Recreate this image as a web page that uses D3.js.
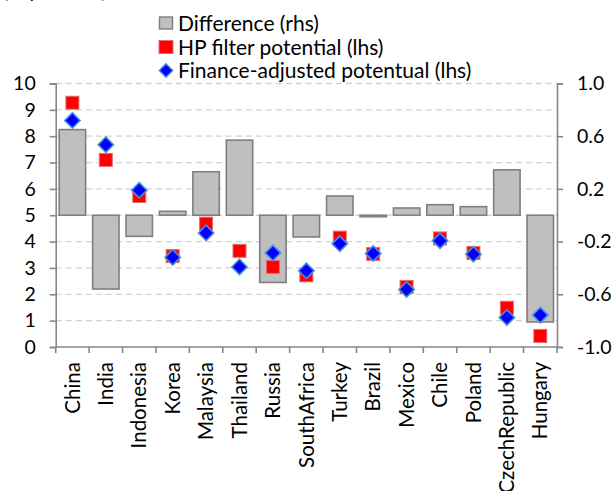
<!DOCTYPE html>
<html>
<head>
<meta charset="utf-8">
<title></title>
<script type="text/javascript" src="https://cdn.jsdelivr.net/npm/d3@7"></script>
<style type="text/css">
	body { margin: 0; background: #fff; }
	text { font-family: Lato, "Open Sans", sans-serif; fill: #000; }
</style>
</head>
<body>
<div id="chart"></div>
<script type="text/javascript">

// values
var countries = ['China', 'India', 'Indonesia', 'Korea', 'Malaysia', 'Thailand', 'Russia', 'SouthAfrica',
	'Turkey', 'Brazil', 'Mexico', 'Chile', 'Poland', 'CzechRepublic', 'Hungary'];

var difference = [0.65, -0.56, -0.16, 0.03, 0.33, 0.57, -0.51, -0.165, 0.146, -0.008, 0.055, 0.08, 0.065, 0.345, -0.81];

var hpFilter = [9.27, 7.10, 5.73, 3.45, 4.68, 3.65, 3.04, 2.72, 4.15, 3.53, 2.28, 4.12, 3.57, 1.49, 0.42];

var financeAdj = [8.60, 7.68, 5.95, 3.40, 4.33, 3.04, 3.57, 2.89, 3.92, 3.55, 2.18, 4.03, 3.52, 1.12, 1.21];

var leftTicks = [0, 1, 2, 3, 4, 5, 6, 7, 8, 9, 10];
var rightTicks = [1.0, 0.6, 0.2, -0.2, -0.6, -1.0];

var legendItems = ['Difference (rhs)', 'HP filter potential (lhs)', 'Finance-adjusted potentual (lhs)'];


var W = 613, H = 491;
var x0 = 55.7, x1 = 557, yTop = 83.5, yBot = 347;
var axisCol = '#868686';

var svg = d3.select('#chart').append('svg')
	.attr('width', W)
	.attr('height', H);

var x = d3.scaleBand().domain(countries).range([x0, x1]);
var yL = d3.scaleLinear().domain([0, 10]).range([yBot, yTop]);
var yR = d3.scaleLinear().domain([-1, 1]).range([yBot, yTop]);

// unit line, mostly above the top edge as in the original crop
svg.append('text')
	.attr('x', 3).attr('y', -2)
	.style('font-size', '20px')
	.text('(in per cent)');

// dashed grid
svg.append('g').selectAll('line')
	.data(leftTicks.filter(function(d){ return d > 0; }))
	.enter().append('line')
	.attr('x1', x0).attr('x2', x1)
	.attr('y1', function(d){ return yL(d); })
	.attr('y2', function(d){ return yL(d); })
	.attr('stroke', '#d2d2d2')
	.attr('stroke-width', 1.3)
	.attr('stroke-dasharray', '6,4');

// bars (rhs)
var bw = x.bandwidth() * 0.79;
svg.append('g').selectAll('rect')
	.data(difference)
	.enter().append('rect')
	.attr('x', function(d, i){ return x(countries[i]) + (x.bandwidth() - bw) / 2; })
	.attr('width', bw)
	.attr('y', function(d){ return Math.min(yR(d), yR(0)); })
	.attr('height', function(d){ return Math.max(Math.abs(yR(d) - yR(0)), 1.5); })
	.attr('fill', '#bfbfbf')
	.attr('stroke', '#7f7f7f')
	.attr('stroke-width', 1.6);

// axes
var fmtR = function(d){ return d3.format('.1f')(d).replace('\u2212', '-'); };

var gl = svg.append('g').attr('transform', 'translate(' + x0 + ',0)')
	.call(d3.axisLeft(yL).tickValues(leftTicks).tickSize(6).tickPadding(14).tickFormat(d3.format('d')));

var gr = svg.append('g').attr('transform', 'translate(' + x1 + ',0)')
	.call(d3.axisRight(yR).tickValues(rightTicks).tickSize(6).tickPadding(14).tickFormat(fmtR));

var gx = svg.append('g').attr('transform', 'translate(0,' + yBot + ')')
	.call(d3.axisBottom(x).tickSize(0).tickPadding(0));

[gl, gr, gx].forEach(function(g){
	g.select('.domain').attr('stroke', axisCol).attr('stroke-width', 1.6);
	g.selectAll('.tick line').attr('stroke', axisCol).attr('stroke-width', 1.6);
	g.selectAll('text').style('font-size', '19.5px').attr('fill', '#000');
});
gx.select('.domain').attr('d', 'M' + x0 + ',0H' + x1);

// category ticks on boundaries
gx.selectAll('.bound')
	.data(countries.concat(['end']))
	.enter().append('line')
	.attr('x1', function(d, i){ return x0 + i * x.step(); })
	.attr('x2', function(d, i){ return x0 + i * x.step(); })
	.attr('y1', 0).attr('y2', 6)
	.attr('stroke', axisCol).attr('stroke-width', 1.6);

gx.selectAll('.tick text')
	.style('font-size', '20.5px')
	.attr('transform', 'rotate(-90)')
	.attr('text-anchor', 'end')
	.attr('x', -15)
	.attr('y', 0)
	.attr('dy', '0.35em');

// HP filter squares
var sq = 13;
svg.append('g').selectAll('rect')
	.data(hpFilter)
	.enter().append('rect')
	.attr('x', function(d, i){ return x(countries[i]) + x.bandwidth() / 2 - sq / 2; })
	.attr('y', function(d){ return yL(d) - sq / 2; })
	.attr('width', sq).attr('height', sq)
	.attr('fill', '#ff0000')
	.attr('stroke', '#e07070')
	.attr('stroke-width', 1);

// finance-adjusted diamonds
var diamond = d3.symbol().type(d3.symbolSquare).size(118);
svg.append('g').selectAll('path')
	.data(financeAdj)
	.enter().append('path')
	.attr('d', diamond)
	.attr('transform', function(d, i){
		return 'translate(' + (x(countries[i]) + x.bandwidth() / 2) + ',' + yL(d) + ') rotate(45)';
	})
	.attr('fill', '#0000ff')
	.attr('stroke', '#4a8fdc')
	.attr('stroke-width', 1.6);

// legend
var lg = svg.append('g').attr('transform', 'translate(159,0)');
var rowY = [23, 47, 70.5];

lg.append('rect').attr('x', 0.5).attr('y', rowY[0] - 6).attr('width', 13).attr('height', 12)
	.attr('fill', '#bfbfbf').attr('stroke', '#7f7f7f').attr('stroke-width', 1.4);
lg.append('rect').attr('x', 0).attr('y', rowY[1] - 6.5).attr('width', 14).attr('height', 13)
	.attr('fill', '#ff0000').attr('stroke', '#e07070').attr('stroke-width', 1);
lg.append('path').attr('d', d3.symbol().type(d3.symbolSquare).size(90))
	.attr('transform', 'translate(7,' + rowY[2] + ') rotate(45)')
	.attr('fill', '#0000ff').attr('stroke', '#4a8fdc').attr('stroke-width', 1.4);

lg.selectAll('.lt')
	.data(legendItems)
	.enter().append('text')
	.attr('x', 19)
	.attr('y', function(d, i){ return rowY[i]; })
	.attr('dy', '0.36em')
	.style('font-size', '21px')
	.text(function(d){ return d; });

</script>
</body>
</html>
